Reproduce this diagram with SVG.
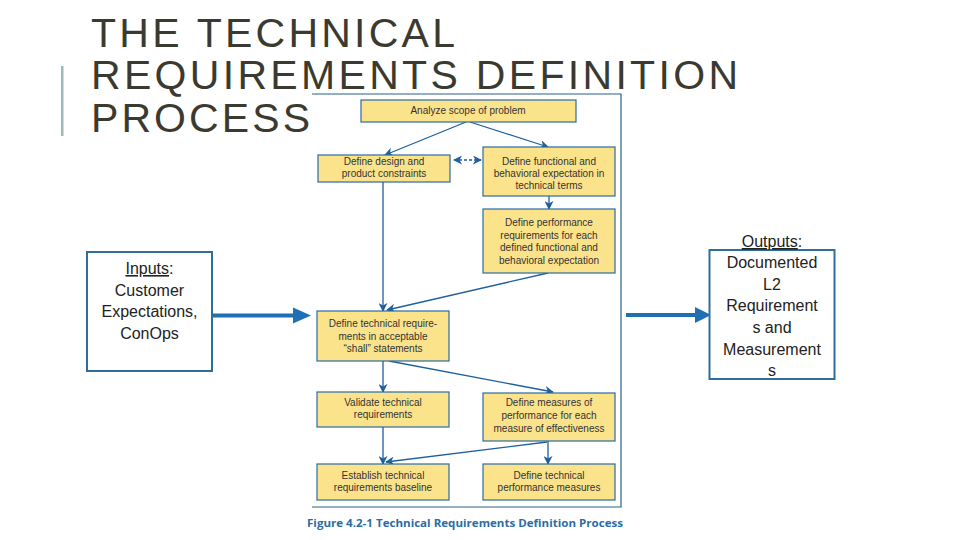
<svg xmlns="http://www.w3.org/2000/svg" width="960" height="540" viewBox="0 0 960 540">
<defs>
<style>
.title{font-family:"Liberation Sans",Arial,sans-serif;font-size:41px;fill:#3b3a30;}
.box{fill:#fbe38c;stroke:#2b6ca3;stroke-width:1.2;}
.bt{font-family:"Liberation Sans",Arial,sans-serif;font-size:10px;fill:#333;text-anchor:middle;}
.io{fill:#fff;stroke:#2e6e9e;stroke-width:2;}
.iot{font-family:"Liberation Sans",Arial,sans-serif;font-size:16px;fill:#222;text-anchor:middle;}
.con{stroke:#1e5f9e;stroke-width:1.3;fill:none;marker-end:url(#ah);}
.thick{stroke:#1f6fb5;stroke-width:4;fill:none;}
</style>
<marker id="ah" viewBox="0 0 10 10" refX="9" refY="5" markerWidth="9" markerHeight="9" markerUnits="userSpaceOnUse" orient="auto-start-reverse">
<path d="M0,0 L10,5 L0,10 L3,5 z" fill="#1e5f9e"/>
</marker>
</defs>
<rect width="960" height="540" fill="#fff"/>
<g id="title">
<rect x="61" y="66" width="2.5" height="70" fill="#9fb9b9"/>
<text class="title" x="91" y="47" textLength="364" lengthAdjust="spacing">THE TECHNICAL</text>
<text class="title" x="91" y="88.5" textLength="647" lengthAdjust="spacing">REQUIREMENTS DEFINITION</text>
<text class="title" x="91" y="131.5" textLength="219" lengthAdjust="spacing">PROCESS</text>
</g>
<g id="frame">
<polyline points="312,94 621,94 621,507 312,507" fill="none" stroke="#2a5f8a" stroke-width="1.2"/>
<text x="307" y="527" font-family="'Open Sans','Liberation Sans',sans-serif" font-size="11" font-weight="bold" fill="#2b6ca3" textLength="316" lengthAdjust="spacingAndGlyphs">Figure 4.2-1  Technical Requirements Definition Process</text>
</g>
<g id="connectors">
<line class="con" x1="466" y1="122" x2="385" y2="155"/>
<line class="con" x1="470" y1="122" x2="548" y2="147"/>
<line class="con" x1="454" y1="160" x2="481" y2="160" stroke-dasharray="3,2" marker-start="url(#ah)"/>
<line class="con" x1="383" y1="182" x2="383" y2="311"/>
<line class="con" x1="549" y1="196" x2="549" y2="209"/>
<line class="con" x1="548" y1="273" x2="387" y2="310"/>
<line class="con" x1="383" y1="361" x2="383" y2="392"/>
<line class="con" x1="389" y1="361" x2="553" y2="392"/>
<line class="con" x1="383" y1="427" x2="383" y2="464"/>
<line class="con" x1="548" y1="441" x2="548" y2="464"/>
<line class="con" x1="547" y1="442" x2="386" y2="462"/>
<line class="thick" x1="212" y1="315.5" x2="296" y2="315.5"/>
<polygon points="293,307.5 311,315.5 293,323.5" fill="#1f6fb5"/>
<line class="thick" x1="626" y1="315" x2="697" y2="315"/>
<polygon points="695,307 711,315 695,323" fill="#1f6fb5"/>
</g>
<g id="n-analyze">
<rect class="box" x="361" y="100" width="215" height="22"/>
<text class="bt" x="468" y="114">Analyze scope of problem</text>
</g>
<g id="n-design">
<rect class="box" x="318" y="155" width="132" height="27"/>
<text class="bt" x="384" y="165">Define design and</text>
<text class="bt" x="384" y="177">product constraints</text>
</g>
<g id="n-functional">
<rect class="box" x="483" y="147" width="132" height="49"/>
<text class="bt" x="549" y="165">Define functional and</text>
<text class="bt" x="549" y="177">behavioral expectation in</text>
<text class="bt" x="549" y="189">technical terms</text>
</g>
<g id="n-performance">
<rect class="box" x="483" y="209" width="132" height="64"/>
<text class="bt" x="549" y="226">Define performance</text>
<text class="bt" x="549" y="238.5">requirements for each</text>
<text class="bt" x="549" y="251">defined functional and</text>
<text class="bt" x="549" y="263.5">behavioral expectation</text>
</g>
<g id="n-technical">
<rect class="box" x="317" y="311" width="132" height="50"/>
<text class="bt" x="383" y="327">Define technical require-</text>
<text class="bt" x="383" y="339.5">ments in acceptable</text>
<text class="bt" x="383" y="352">“shall” statements</text>
</g>
<g id="n-validate">
<rect class="box" x="317" y="392" width="132" height="35"/>
<text class="bt" x="383" y="406">Validate technical</text>
<text class="bt" x="383" y="418">requirements</text>
</g>
<g id="n-measures">
<rect class="box" x="483" y="393" width="132" height="48"/>
<text class="bt" x="549" y="406">Define measures of</text>
<text class="bt" x="549" y="419">performance for each</text>
<text class="bt" x="549" y="432">measure of effectiveness</text>
</g>
<g id="n-baseline">
<rect class="box" x="317" y="464" width="132" height="36"/>
<text class="bt" x="383" y="479">Establish technical</text>
<text class="bt" x="383" y="491">requirements baseline</text>
</g>
<g id="n-tpm">
<rect class="box" x="483" y="464" width="132" height="36"/>
<text class="bt" x="549" y="479">Define technical</text>
<text class="bt" x="549" y="491">performance measures</text>
</g>
<g id="n-inputs">
<rect class="io" x="87" y="252" width="125" height="119"/>
<text class="iot" x="149.5" y="274"><tspan text-decoration="underline">Inputs</tspan>:</text>
<text class="iot" x="149.5" y="296">Customer</text>
<text class="iot" x="149.5" y="317">Expectations,</text>
<text class="iot" x="149.5" y="339">ConOps</text>
</g>
<g id="n-outputs">
<rect class="io" x="709.5" y="250" width="125" height="129"/>
<text class="iot" x="772" y="247"><tspan text-decoration="underline">Outputs</tspan>:</text>
<text class="iot" x="772" y="268">Documented</text>
<text class="iot" x="772" y="290">L2</text>
<text class="iot" x="772" y="311">Requirement</text>
<text class="iot" x="772" y="333">s and</text>
<text class="iot" x="772" y="355">Measurement</text>
<text class="iot" x="772" y="376">s</text>
</g>
</svg>
